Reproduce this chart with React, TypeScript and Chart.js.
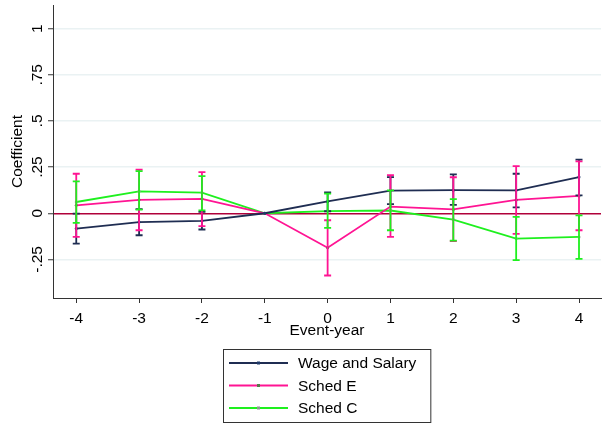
import React, { useEffect, useRef } from "react";
import { Chart, registerables } from "chart.js";

Chart.register(...registerables);

const eventYears = [-4, -3, -2, -1, 0, 1, 2, 3, 4];

const wageCoef = [-0.083, -0.048, -0.041, 0, 0.064, 0.123, 0.125, 0.124, 0.196];
const wageLow = [-0.164, -0.119, -0.088, null, 0.011, 0.049, 0.045, 0.032, 0.097];
const wageHigh = [-0.002, 0.022, 0.007, null, 0.113, 0.196, 0.211, 0.214, 0.291];

const schedECoef = [0.043, 0.073, 0.078, 0, -0.187, 0.036, 0.021, 0.072, 0.094];
const schedELow = [-0.128, -0.092, -0.07, null, -0.337, -0.128, -0.151, -0.112, -0.092];
const schedEHigh = [0.214, 0.236, 0.223, null, -0.038, 0.207, 0.195, 0.255, 0.281];

const schedCCoef = [0.061, 0.119, 0.112, 0, 0.012, 0.015, -0.034, -0.137, -0.128];
const schedCLow = [-0.052, 0.02, 0.016, null, -0.079, -0.092, -0.148, -0.254, -0.247];
const schedCHigh = [0.173, 0.228, 0.201, null, 0.106, 0.124, 0.077, -0.02, -0.011];

const xTickValues = [-4, -3, -2, -1, 0, 1, 2, 3, 4];
const yTickValues = [-0.25, 0, 0.25, 0.5, 0.75, 1];
const yTickLabels = ["-.25", "0", ".25", ".5", ".75", "1"];

const seriesLabels = ["Wage and Salary", "Sched E", "Sched C"];
const seriesColors = ["#1f2d52", "#ff1493", "#1ef01e"];
const markerColors = ["#1f3a6a", "#557a4a", "#8a9a8e"];

const FONT = "'Liberation Sans', Arial, sans-serif";
const FONT_SIZE = 15.5;

export default function App() {
  const ref = useRef<HTMLCanvasElement>(null);

  useEffect(() => {
    if (!ref.current) return;
    const coefs = [wageCoef, schedECoef, schedCCoef];
    const bars = [
      { low: wageLow, high: wageHigh },
      { low: schedELow, high: schedEHigh },
      { low: schedCLow, high: schedCHigh },
    ];

    const customPlugin = {
      id: "stataExtras",
      afterDatasetsDraw(chart: any) {
        const ctx = chart.ctx;
        const xs = chart.scales.x;
        const ys = chart.scales.y;
        ctx.save();
        bars.forEach((b, s) => {
          ctx.strokeStyle = seriesColors[s];
          ctx.lineWidth = 1.8;
          for (let i = 0; i < eventYears.length; i++) {
            const lo = b.low[i];
            const hi = b.high[i];
            if (lo === null || hi === null) continue;
            const x = xs.getPixelForValue(eventYears[i]);
            const yl = ys.getPixelForValue(lo);
            const yh = ys.getPixelForValue(hi);
            ctx.beginPath();
            ctx.moveTo(x, yl);
            ctx.lineTo(x, yh);
            ctx.moveTo(x - 3.5, yl);
            ctx.lineTo(x + 3.5, yl);
            ctx.moveTo(x - 3.5, yh);
            ctx.lineTo(x + 3.5, yh);
            ctx.stroke();
          }
        });
        ctx.restore();
      },
      afterDraw(chart: any) {
        const ctx = chart.ctx;
        const ys = chart.scales.y;
        const ca = chart.chartArea;
        ctx.save();
        // rotated y tick labels
        ctx.font = `${FONT_SIZE}px ${FONT}`;
        ctx.fillStyle = "#000";
        ctx.textAlign = "center";
        ctx.textBaseline = "alphabetic";
        yTickValues.forEach((v, i) => {
          const y = ys.getPixelForValue(v);
          ctx.save();
          ctx.translate(ca.left - 11, y);
          ctx.rotate(-Math.PI / 2);
          ctx.fillText(yTickLabels[i], 0, 0);
          ctx.restore();
        });

        // legend
        const maxW = Math.max(...seriesLabels.map((l) => ctx.measureText(l).width));
        const padL = 6, sampleW = 59, gap = 10, padR = 14;
        const boxW = padL + sampleW + gap + maxW + padR;
        const boxH = 73;
        const boxX = Math.round((ca.left + ca.right) / 2 - boxW / 2);
        const boxY = Math.round(ca.bottom + 51);
        ctx.fillStyle = "#fff";
        ctx.fillRect(boxX, boxY, boxW, boxH);
        ctx.strokeStyle = "#333";
        ctx.lineWidth = 1;
        ctx.strokeRect(boxX + 0.5, boxY + 0.5, boxW, boxH);
        seriesLabels.forEach((label, i) => {
          const ry = boxY + 14 + i * 22.5;
          ctx.strokeStyle = seriesColors[i];
          ctx.lineWidth = 2;
          ctx.beginPath();
          ctx.moveTo(boxX + padL, ry);
          ctx.lineTo(boxX + padL + sampleW, ry);
          ctx.stroke();
          ctx.fillStyle = markerColors[i];
          ctx.fillRect(boxX + padL + sampleW / 2 - 1.5, ry - 1.5, 3, 3);
          ctx.fillStyle = "#000";
          ctx.textAlign = "left";
          ctx.textBaseline = "middle";
          ctx.fillText(label, boxX + padL + sampleW + gap, ry + 1);
        });
        ctx.restore();
      },
    };

    const chart = new Chart(ref.current, {
      type: "line",
      data: {
        datasets: seriesLabels.map((label, s) => ({
          label,
          data: eventYears.map((x, i) => ({ x, y: coefs[s][i] })),
          borderColor: seriesColors[s],
          backgroundColor: markerColors[s],
          borderWidth: 1.8,
          pointRadius: 1.5,
          pointBorderWidth: 0,
          pointBackgroundColor: markerColors[s],
          tension: 0,
          fill: false,
        })),
      },
      options: {
        responsive: false,
        animation: false,
        devicePixelRatio: 1,
        layout: { padding: { left: 0, right: 4, top: 5, bottom: 84 } },
        plugins: {
          legend: { display: false },
          tooltip: { enabled: false },
        },
        scales: {
          x: {
            type: "linear",
            min: -4.37,
            max: 4.35,
            afterBuildTicks: (s: any) => {
              s.ticks = xTickValues.map((v) => ({ value: v }));
            },
            afterFit: (s: any) => {
              s.height = 42;
            },
            ticks: {
              font: { family: FONT, size: FONT_SIZE },
              color: "#000",
              padding: 6,
              maxRotation: 0,
              autoSkip: false,
              callback: (v: any) => String(v),
            },
            grid: {
              drawOnChartArea: false,
              drawTicks: true,
              tickLength: 5,
              tickColor: "#333",
              tickWidth: 1,
            },
            border: { display: true, color: "#333", width: 1 },
            title: {
              display: true,
              text: "Event-year",
              font: { family: FONT, size: FONT_SIZE },
              color: "#000",
              padding: { top: 0, bottom: 0 },
            },
          },
          y: {
            type: "linear",
            min: -0.459,
            max: 1.128,
            afterBuildTicks: (s: any) => {
              s.ticks = yTickValues.map((v) => ({ value: v }));
            },
            afterFit: (s: any) => {
              s.width = 53;
            },
            ticks: { display: false },
            grid: {
              color: (c: any) => (c.tick && c.tick.value === 0 ? "#b0003a" : "#eaf2f3"),
              lineWidth: 1.5,
              drawTicks: true,
              tickLength: 5,
              tickColor: "#333",
              tickWidth: 1,
            },
            border: { display: true, color: "#333", width: 1 },
            title: {
              display: true,
              text: "Coefficient",
              font: { family: FONT, size: FONT_SIZE },
              color: "#000",
              padding: { top: 8, bottom: 0 },
            },
          },
        },
      },
      plugins: [customPlugin],
    } as any);

    return () => chart.destroy();
  }, []);

  return (
    <div style={{ position: "fixed", left: 0, top: 0, width: 605, height: 424, background: "#fff" }}>
      <canvas ref={ref} width={605} height={424} style={{ width: 605, height: 424, display: "block" }} />
    </div>
  );
}
